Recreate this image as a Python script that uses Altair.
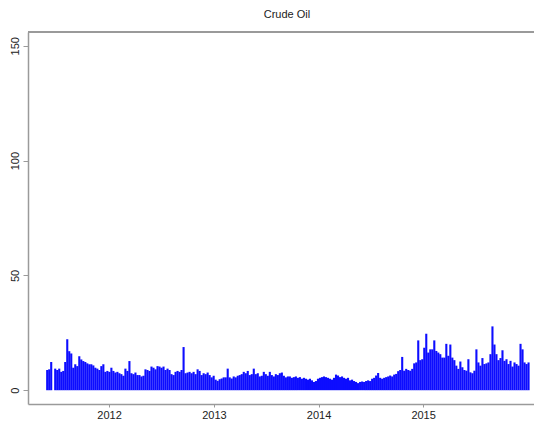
import altair as alt
import pandas as pd

chart_title = "Crude Oil"
start_date = "2011-05-30"   # first weekly observation
# weekly volatility values read from the picture
vol = [
    8.8, 9.1, 12.3, 0.0, 9.4, 8.8, 9.4, 8.0, 8.4, 12.3,
    22.2, 17.0, 16.0, 9.8, 11.3, 10.5, 14.8, 13.4, 12.7, 12.3,
    11.7, 11.3, 11.3, 10.8, 9.8, 9.4, 8.8, 10.5, 11.3, 8.0,
    8.4, 8.0, 9.8, 8.4, 7.7, 8.0, 7.4, 7.0, 6.3, 9.4,
    8.4, 12.7, 7.4, 7.0, 7.7, 6.6, 6.6, 6.0, 6.3, 9.1,
    8.8, 8.4, 10.3, 9.8, 9.1, 10.5, 10.3, 9.8, 10.3, 8.8,
    9.4, 8.8, 7.0, 6.6, 8.0, 8.4, 8.0, 8.8, 18.8, 7.4,
    7.7, 8.0, 7.4, 8.0, 7.0, 9.1, 8.4, 6.6, 7.4, 7.0,
    7.7, 6.6, 5.6, 6.3, 4.6, 4.1, 4.8, 5.1, 5.6, 5.6,
    9.4, 5.6, 5.1, 6.0, 5.6, 6.3, 6.6, 7.0, 8.0, 7.4,
    8.4, 6.6, 7.0, 9.4, 7.0, 7.4, 6.0, 6.3, 8.0, 7.0,
    6.3, 8.0, 6.6, 6.0, 7.0, 6.6, 7.4, 7.7, 6.3, 5.6,
    6.0, 6.0, 5.4, 5.7, 6.0, 5.4, 5.7, 5.0, 5.4, 5.0,
    4.6, 5.0, 4.3, 3.6, 4.0, 5.0, 5.4, 5.7, 6.0, 5.7,
    5.4, 5.0, 4.6, 5.4, 6.8, 6.4, 5.7, 6.0, 5.4, 5.0,
    5.4, 4.3, 4.6, 4.0, 3.6, 3.1, 3.6, 3.8, 3.6, 4.0,
    4.3, 4.0, 5.0, 5.4, 6.4, 7.5, 5.4, 5.0, 5.4, 5.7,
    6.0, 6.4, 6.0, 6.8, 7.1, 8.3, 8.8, 14.5, 8.5, 9.3,
    8.8, 8.5, 9.3, 11.7, 12.1, 21.7, 13.1, 13.5, 18.5, 24.6,
    16.4, 17.8, 17.8, 21.7, 17.1, 16.4, 15.7, 14.2, 14.2, 20.2,
    15.0, 19.9, 14.2, 13.1, 10.7, 9.3, 12.5, 10.0, 8.8, 8.5,
    13.5, 7.8, 7.4, 8.5, 17.8, 12.1, 10.7, 14.0, 11.4, 11.7,
    12.1, 15.7, 27.8, 19.9, 15.7, 13.1, 14.0, 17.4, 12.8, 13.5,
    11.4, 12.8, 10.3, 12.1, 11.4, 10.7, 20.2, 17.8, 12.1, 11.4,
    12.1,
]
year_ticks = [2012, 2013, 2014, 2015]
y_ticks = [0, 50, 100, 150]

dates = pd.date_range(start_date, periods=len(vol), freq="7D")
df = pd.DataFrame({"date": dates.strftime("%Y-%m-%d"), "vol": vol})

axis_gray = "#9a9a9a"
font = "Liberation Sans"

x_scale = alt.Scale(
    type="utc",
    domain=[alt.DateTime(year=2011, month=3, date=24, utc=True),
            alt.DateTime(year=2016, month=1, date=23, utc=True)],
)
y_scale = alt.Scale(domain=[-6, 156], nice=False, zero=False)

bars = alt.Chart(df).mark_rule(color="#0000ff", strokeWidth=2.1, opacity=0.95).encode(
    x=alt.X("date:T", scale=x_scale,
            axis=alt.Axis(values=[alt.DateTime(year=y, month=1, date=1, utc=True) for y in year_ticks],
                          format="%Y", title=None, grid=False,
                          domainColor=axis_gray, domainWidth=1.5,
                          tickColor=axis_gray, tickSize=3, tickWidth=1,
                          labelFont=font, labelFontSize=11, labelColor="#222",
                          labelPadding=2)),
    y=alt.Y("vol:Q", scale=y_scale,
            axis=alt.Axis(values=y_ticks, title=None, grid=False,
                          domainColor=axis_gray, domainWidth=1.5,
                          tickColor=axis_gray, tickSize=5, tickWidth=1,
                          labelAngle=270, labelAlign="center", labelBaseline="bottom",
                          labelFont=font, labelFontSize=11, labelColor="#222",
                          labelPadding=3)),
    y2=alt.datum(0),
)

top_line = alt.Chart(df).mark_rule(color=axis_gray, strokeWidth=1.5).encode(
    y=alt.datum(156, scale=y_scale)
)

chart = alt.layer(bars, top_line).properties(
    width=506,
    height=372,
    title=alt.TitleParams(chart_title, font=font, fontSize=11, fontWeight="normal",
                          color="#222", offset=11, dx=6),
    padding={"left": 20, "top": 24, "right": 0, "bottom": 18},
    autosize=alt.AutoSizeParams(type="none"),
).configure_view(stroke=None)

chart.save("out.html", embed_options={"renderer": "svg", "actions": False})
